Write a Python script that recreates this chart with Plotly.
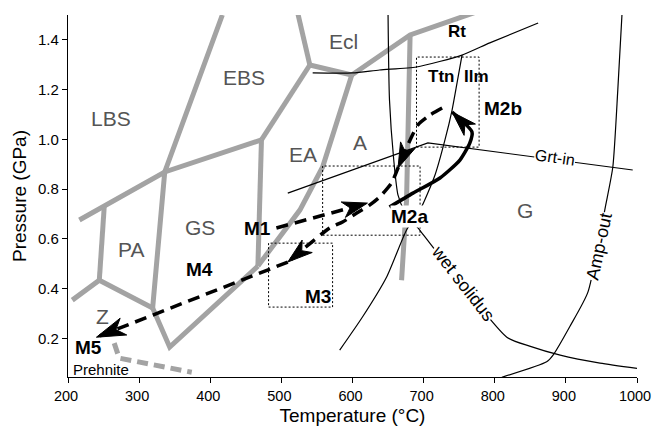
import plotly.graph_objects as go

# ---------------- axes ----------------
x_range = [200, 1000]
y_range = [0.045, 1.5]
x_ticks = [200, 300, 400, 500, 600, 700, 800, 900, 1000]
y_ticks = [0.2, 0.4, 0.6, 0.8, 1.0, 1.2, 1.4]
y_tick_labels = ["0.2", "0.4", "0.6", "0.8", "1.0", "1.2", "1.4"]

# ---------------- grey facies boundaries (T in °C, P in GPa) ----------------
b1_T = [417, 336, 319];            b1_P = [1.50, 0.869, 0.322]
b2_T = [216, 336, 472];            b2_P = [0.676, 0.869, 0.998]
b3_T = [251, 244];                 b3_P = [0.732, 0.434]
b4_T = [206, 244, 319];            b4_P = [0.354, 0.434, 0.322]
b5_T = [319, 343, 467];            b5_P = [0.322, 0.165, 0.491]
b6_T = [472, 470, 467];            b6_P = [0.998, 0.756, 0.491]
b7_T = [472, 540];                 b7_P = [0.998, 1.299]
b8_T = [540, 531, 523];            b8_P = [1.299, 1.400, 1.508]
b9_T = [540, 599];                 b9_P = [1.299, 1.259]
b10_T = [599, 558, 526, 467];      b10_P = [1.259, 0.889, 0.716, 0.491]
b11_T = [599, 681, 782];           b11_P = [1.259, 1.420, 1.52]
b12_T = [681, 676, 669];           b12_P = [1.420, 0.756, 0.434]
prehnite_T = [265, 272, 374];      prehnite_P = [0.181, 0.121, 0.064]

# ---------------- thin reaction lines ----------------
grt_in_T = [509, 706, 994];        grt_in_P = [0.784, 0.986, 0.877]
rt_T = [544, 600, 638, 690, 754, 793, 861]
rt_P = [1.267, 1.267, 1.279, 1.291, 1.339, 1.388, 1.468]
ttn_ilm_T = [754, 747, 740, 730, 716, 697, 676, 648, 614, 582]
ttn_ilm_P = [1.339, 1.227, 1.118, 0.998, 0.857, 0.728, 0.636, 0.447, 0.286, 0.153]
wet_sol_T = [650, 652, 658, 664, 674, 692, 817, 849, 892, 948, 1000]
wet_sol_P = [1.50, 1.158, 0.917, 0.776, 0.708, 0.644, 0.205, 0.169, 0.133, 0.101, 0.080]
amp_out_T = [979, 973, 966, 956, 931, 906, 882, 873, 810]
amp_out_P = [1.508, 1.199, 0.889, 0.736, 0.386, 0.250, 0.133, 0.106, 0.044]

# ---------------- dotted boxes [Tmin, Tmax], [Pmin, Pmax] ----------------
box_m2b_T = [690, 778]; box_m2b_P = [0.969, 1.331]
box_m2a_T = [558, 695]; box_m2a_P = [0.615, 0.893]
box_m3_T = [482, 572];  box_m3_P = [0.326, 0.583]

# ---------------- P-T path ----------------
m1_T = [493, 621];  m1_P = [0.644, 0.744]
pro_T = [652, 685, 723, 751, 765, 768]
pro_P = [0.728, 0.784, 0.845, 0.917, 0.986, 1.030]
pro_tip = (740, 1.110)
ret_T = [726, 709, 692, 681, 664, 655, 638, 624, 606, 586, 568, 509]
ret_P = [1.126, 1.098, 1.058, 0.998, 0.885, 0.825, 0.768, 0.736, 0.704, 0.668, 0.644, 0.507]
ret2_T = [509, 240]; ret2_P = [0.507, 0.205]

# ---------------- labels ----------------
grey_labels = ["LBS", "EBS", "Ecl", "EA", "A", "GS", "PA", "Z", "G"]
grey_T = [261, 448, 588, 530, 610, 386, 288, 249, 842]
grey_P = [1.086, 1.247, 1.392, 0.941, 0.986, 0.644, 0.559, 0.290, 0.716]
bold_labels = ["M1", "M4", "M3", "M5", "M2a", "M2b"]
bold_T = [467, 385, 552, 229, 680, 811]
bold_P = [0.640, 0.479, 0.370, 0.165, 0.692, 1.126]
min_labels = ["Rt", "Ttn", "Ilm"]
min_T = [747, 724, 775]
min_P = [1.432, 1.251, 1.251]

W, H = 652, 441
M = dict(l=68, r=15, t=15, b=64)
plot_w = W - M["l"] - M["r"]
plot_h = H - M["t"] - M["b"]
px_T = plot_w / (x_range[1] - x_range[0])
px_P = plot_h / (y_range[1] - y_range[0])

GREY = "#a3a3a3"
fig = go.Figure()


def add_line(T, P, color="black", width=1.2, dash=None, shape="spline"):
    fig.add_trace(go.Scatter(x=T, y=P, mode="lines", hoverinfo="skip", showlegend=False,
                             line=dict(color=color, width=width, dash=dash, shape=shape,
                                       smoothing=0.6)))


for T, P in [(b1_T, b1_P), (b2_T, b2_P), (b3_T, b3_P), (b4_T, b4_P), (b5_T, b5_P),
             (b6_T, b6_P), (b7_T, b7_P), (b8_T, b8_P), (b9_T, b9_P), (b10_T, b10_P),
             (b11_T, b11_P), (b12_T, b12_P)]:
    add_line(T, P, color=GREY, width=5, shape="linear")
add_line(prehnite_T, prehnite_P, color=GREY, width=5, dash="11px,6px", shape="linear")

add_line(grt_in_T, grt_in_P, shape="linear")
add_line(rt_T, rt_P)
add_line(ttn_ilm_T, ttn_ilm_P)
add_line(wet_sol_T, wet_sol_P)
add_line(amp_out_T, amp_out_P)

for bt, bp in [(box_m2b_T, box_m2b_P), (box_m2a_T, box_m2a_P), (box_m3_T, box_m3_P)]:
    add_line([bt[0], bt[1], bt[1], bt[0], bt[0]], [bp[0], bp[0], bp[1], bp[1], bp[0]],
             width=1, dash="2px,2px", shape="linear")

DASH = "12px,7px"
add_line(m1_T, m1_P, width=3.5, dash=DASH, shape="linear")
add_line(pro_T + [pro_tip[0]], pro_P + [pro_tip[1]], width=3.5)
add_line(ret_T, ret_P, width=3.5, dash=DASH)
add_line(ret2_T, ret2_P, width=3.5, dash=DASH, shape="linear")


def head(tip, frm, L=25, Wd=16):
    tx, ty = tip[0] * px_T, tip[1] * px_P
    fx, fy = frm[0] * px_T, frm[1] * px_P
    dx, dy = tx - fx, ty - fy
    n = (dx * dx + dy * dy) ** 0.5
    ux, uy = dx / n, dy / n
    vx, vy = -uy, ux
    pts = [(tx, ty),
           (tx - L * ux + Wd / 2 * vx, ty - L * uy + Wd / 2 * vy),
           (tx - 0.72 * L * ux, ty - 0.72 * L * uy),
           (tx - L * ux - Wd / 2 * vx, ty - L * uy - Wd / 2 * vy),
           (tx, ty)]
    fig.add_trace(go.Scatter(x=[p[0] / px_T for p in pts], y=[p[1] / px_P for p in pts],
                             mode="lines", fill="toself", fillcolor="black",
                             line=dict(color="black", width=1), hoverinfo="skip",
                             showlegend=False))


head((m1_T[1], m1_P[1]), (m1_T[0], m1_P[0]))
head(pro_tip, (pro_T[-1], pro_P[-1]))
head((ret_T[4], ret_P[4]), (ret_T[3], ret_P[3]))
head((ret_T[-1], ret_P[-1]), (ret_T[-2], ret_P[-2]))
head((ret2_T[1], ret2_P[1]), (ret2_T[0], ret2_P[0]), L=29, Wd=18)

FONT = "Liberation Sans, Arial, sans-serif"
ann = []
for t, x, y in zip(grey_labels, grey_T, grey_P):
    ann.append(dict(x=x, y=y, text=t, showarrow=False,
                    font=dict(family=FONT, size=21, color="#555555")))
for t, x, y in zip(bold_labels, bold_T, bold_P):
    ann.append(dict(x=x, y=y, text="<b>%s</b>" % t, showarrow=False, borderpad=0,
                    bgcolor="white" if t == "M2a" else None,
                    font=dict(family=FONT, size=19, color="black")))
for t, x, y in zip(min_labels, min_T, min_P):
    ann.append(dict(x=x, y=y, text="<b>%s</b>" % t, showarrow=False,
                    font=dict(family=FONT, size=17, color="black")))
ann.append(dict(x=247, y=0.076, text="Prehnite", showarrow=False,
                font=dict(family=FONT, size=15, color="black")))
ann.append(dict(x=885, y=0.929, text="Grt-in", showarrow=False, textangle=8,
                bgcolor="white", borderpad=0,
                font=dict(family=FONT, size=16, color="black")))
ann.append(dict(x=755, y=0.422, text="wet solidus", showarrow=False, textangle=52,
                bgcolor="white", borderpad=0,
                font=dict(family=FONT, size=18, color="black")))
ann.append(dict(x=947, y=0.571, text="Amp-out", showarrow=False, textangle=-78,
                bgcolor="white", borderpad=0,
                font=dict(family=FONT, size=18, color="black")))

fig.update_layout(
    width=W, height=H, margin=dict(M, autoexpand=False), plot_bgcolor="white",
    paper_bgcolor="white", annotations=ann, showlegend=False,
    font=dict(family=FONT, size=15, color="black"),
    xaxis=dict(range=x_range, tickvals=x_ticks, showgrid=False, zeroline=False,
               showline=True, linecolor="black", linewidth=1.3, ticks="outside",
               ticklen=5, tickcolor="black", tickfont=dict(size=14.5),
               ticklabeloverflow="allow", ticklabelshift=-2, automargin=False,
               title=dict(text="Temperature (°C)", font=dict(size=19), standoff=6)),
    yaxis=dict(range=y_range, tickvals=y_ticks, ticktext=y_tick_labels, showgrid=False,
               zeroline=False, showline=True, linecolor="black", linewidth=1.3,
               ticks="outside", ticklen=5, tickcolor="black", tickfont=dict(size=15),
               automargin=False,
               title=dict(text="Pressure (GPa)", font=dict(size=19), standoff=6)),
)
fig.write_html("out.html", config={"displayModeBar": False},
               post_script="document.body.style.margin='0';document.body.style.overflow='hidden';")
